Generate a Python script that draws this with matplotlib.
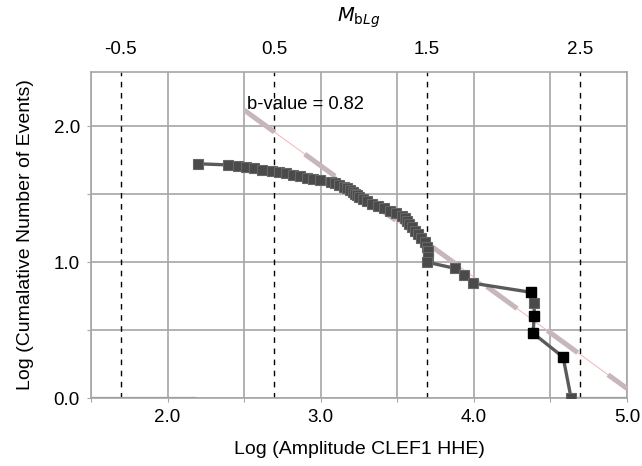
import matplotlib.pyplot as plt
import numpy as np

plt.rcParams["font.family"] = ["Liberation Sans", "DejaVu Sans"]

# log amplitude of each event (sorted, largest last) and cumulative count
LOG_AMP = [2.199, 2.395, 2.460, 2.512, 2.565, 2.617, 2.682, 2.728, 2.774,
           2.819, 2.865, 2.911, 2.950, 2.996, 3.068, 3.094, 3.120, 3.153,
           3.172, 3.192, 3.211, 3.224, 3.237, 3.250, 3.277, 3.303, 3.335,
           3.375, 3.414, 3.453, 3.492, 3.531, 3.551, 3.564, 3.577, 3.597,
           3.616, 3.636, 3.655, 3.682, 3.695, 3.701, 3.701, 3.695, 3.878,
           3.936, 3.995, 4.374, 4.394, 4.394, 4.387, 4.583, 4.635]
CUM_N = list(range(53, 0, -1))
HIGHLIGHT_N = [6, 4, 3, 2]  # events drawn as black squares

# flat segments along zero
ZERO_SEG = [(1.5, 2.18), (4.64, 5.0)]

# Gutenberg-Richter fit
B_VALUE = 0.82
FIT_A = 4.17
FIT_X = [2.5, 5.0]

# magnitude axis
MAG_OFFSET = 2.195
MAG_TICKS = [-0.5, 0.5, 1.5, 2.5]


def main():
    fig = plt.figure(figsize=(6.42, 4.66), dpi=100)
    ax = fig.add_axes([0.1417, 0.1459, 0.8349, 0.6996])

    grid_c = "#a6a6a6"
    ax.set_xlim(1.5, 5.0)
    ax.set_ylim(0, 2.4)
    ax.set_xticks(np.arange(1.5, 5.01, 0.5))
    ax.set_xticklabels(["" if v % 1 else f"{v:.1f}" for v in np.arange(1.5, 5.01, 0.5)])
    ax.set_yticks(np.arange(0, 2.41, 0.5))
    ax.set_yticklabels(["" if v % 1 else f"{v:.1f}" for v in np.arange(0, 2.41, 0.5)])
    ax.grid(True, color=grid_c, linewidth=1.2)
    ax.set_axisbelow(True)
    for s in ax.spines.values():
        s.set_color(grid_c)
        s.set_linewidth(1.2)
    ax.tick_params(direction="out", length=3, color=grid_c, labelsize=13.5,
                   pad=5)

    # magnitude reference lines
    for m in MAG_TICKS:
        ax.axvline(m + MAG_OFFSET, color="black", linewidth=1.0,
                   linestyle=(0, (4, 4)), zorder=2)

    for x0, x1 in ZERO_SEG:
        ax.plot([x0, x1], [0, 0], color="#808080", linewidth=1.6, zorder=2)

    # fit line
    fx = np.array(FIT_X)
    fy = FIT_A - B_VALUE * fx
    ax.plot(fx, fy, color="#f3b5b5", linewidth=0.7, zorder=3)
    ax.plot(fx, fy, color="#c7b7bb", linewidth=3.6,
            linestyle=(0, (7.5, 7.5)), zorder=3, solid_capstyle="butt")

    logn = np.log10(CUM_N)
    ax.plot(LOG_AMP, logn, color="#5a5a5a", linewidth=2.4, zorder=4)
    gray = [i for i, n in enumerate(CUM_N) if n not in HIGHLIGHT_N]
    black = [i for i, n in enumerate(CUM_N) if n in HIGHLIGHT_N]
    ax.plot([LOG_AMP[i] for i in gray], logn[gray], "s", color="#4a4a4a",
            markeredgecolor="#666666", markeredgewidth=0.8, markersize=7,
            zorder=5)
    ax.plot([LOG_AMP[i] for i in black], logn[black], "s", color="black",
            markersize=7.5, zorder=6)

    ax.text(2.52, 2.16, f"b-value = {B_VALUE:.2f}", fontsize=13.2, ha="left",
            va="center", zorder=7)

    ax.set_xlabel("Log (Amplitude CLEF1 HHE)", fontsize=14, labelpad=11)
    ax.set_ylabel("Log (Cumalative Number of Events)", fontsize=14, labelpad=14)

    top = ax.secondary_xaxis("top", functions=(lambda x: x - MAG_OFFSET,
                                               lambda m: m + MAG_OFFSET))
    top.set_xticks(MAG_TICKS)
    top.set_xticklabels([f"{m:.1f}" for m in MAG_TICKS])
    top.tick_params(length=0, labelsize=13.5, pad=10)
    top.spines["top"].set_visible(False)
    top.set_xlabel(r"$M_{\mathrm{b}Lg}$", fontsize=14, labelpad=14)

    fig.savefig("out.png", dpi=100)
    plt.close(fig)


if __name__ == "__main__":
    main()
